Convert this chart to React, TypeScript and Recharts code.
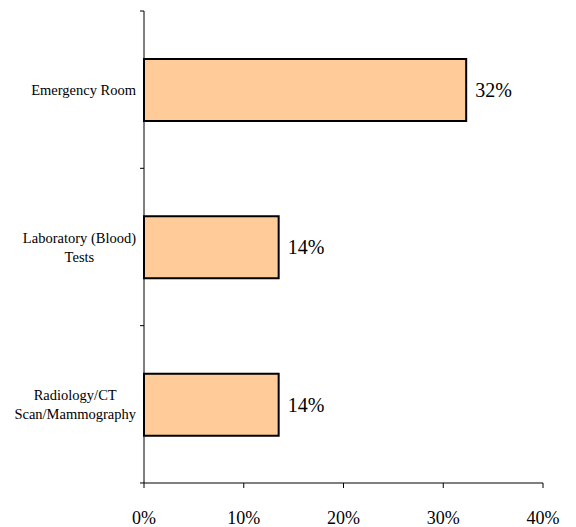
import React from 'react'
import { BarChart, Bar, XAxis, YAxis, LabelList } from 'recharts'

const categories = ['Emergency Room', 'Laboratory (Blood)\nTests', 'Radiology/CT\nScan/Mammography']
const shares = [32.3, 13.5, 13.5]
const xTicks = [0, 10, 20, 30, 40]

const data = categories.map((name, i) => ({ name, value: shares[i] }))

const FONT = 'Liberation Serif'
const CAT_SIZE = 14.5

// width of a text line, so wrapped labels can be centred inside a right-aligned block
const ctx = typeof document !== 'undefined' ? document.createElement('canvas').getContext('2d') : null
function textWidth(s: string) {
  if (!ctx) return s.length * CAT_SIZE * 0.45
  ctx.font = `${CAT_SIZE}px "${FONT}"`
  return ctx.measureText(s).width
}

function CategoryTick(props: any) {
  const { x, y, payload, index } = props
  const lines = String(payload.value).split('\n')
  const band = 157.3
  const lineH = 19
  const startY = y - ((lines.length - 1) * lineH) / 2
  const blockW = Math.max(...lines.map(textWidth))
  const cx = x - 8 - blockW / 2
  return (
    <g>
      {lines.map((line: string, i: number) => (
        <text
          key={i}
          x={cx}
          y={startY + i * lineH}
          dy="0.35em"
          textAnchor="middle"
          fontSize={CAT_SIZE}
          style={{ fontFamily: FONT }}
          fill="#000"
        >
          {line}
        </text>
      ))}
      {index === 0 && <line x1={x - 4} x2={x} y1={y - band / 2} y2={y - band / 2} stroke="#000" />}
      <line x1={x - 4} x2={x} y1={y + band / 2} y2={y + band / 2} stroke="#000" />
    </g>
  )
}

export default function App() {
  return (
    <div style={{ position: 'absolute', left: 0, top: 0, width: 576, height: 527, background: '#fff', fontFamily: FONT }}>
      <BarChart
        width={576}
        height={527}
        data={data}
        layout="vertical"
        margin={{ top: 11, right: 33, bottom: 0, left: 0 }}
        barCategoryGap={0}
        style={{ fontFamily: FONT }}
      >
        <XAxis
          type="number"
          domain={[0, 40]}
          ticks={xTicks}
          tickFormatter={(v) => `${v}%`}
          axisLine={{ stroke: '#000' }}
          tickLine={{ stroke: '#000' }}
          tickSize={5}
          tickMargin={23}
          height={44}
          tick={{ fontSize: 18, fontFamily: FONT, fill: '#000' }}
        />
        <YAxis
          type="category"
          dataKey="name"
          width={144}
          axisLine={{ stroke: '#000' }}
          tickLine={false}
          tickSize={0}
          tickMargin={0}
          tick={<CategoryTick />}
          interval={0}
        />
        <Bar dataKey="value" fill="#FFCC99" stroke="#000" strokeWidth={2} barSize={62} isAnimationActive={false}>
          <LabelList
            dataKey="value"
            position="right"
            offset={9}
            formatter={(v: any) => `${Math.round(v)}%`}
            style={{ fontSize: 20, fontFamily: FONT, fill: '#000' }}
          />
        </Bar>
      </BarChart>
    </div>
  )
}
